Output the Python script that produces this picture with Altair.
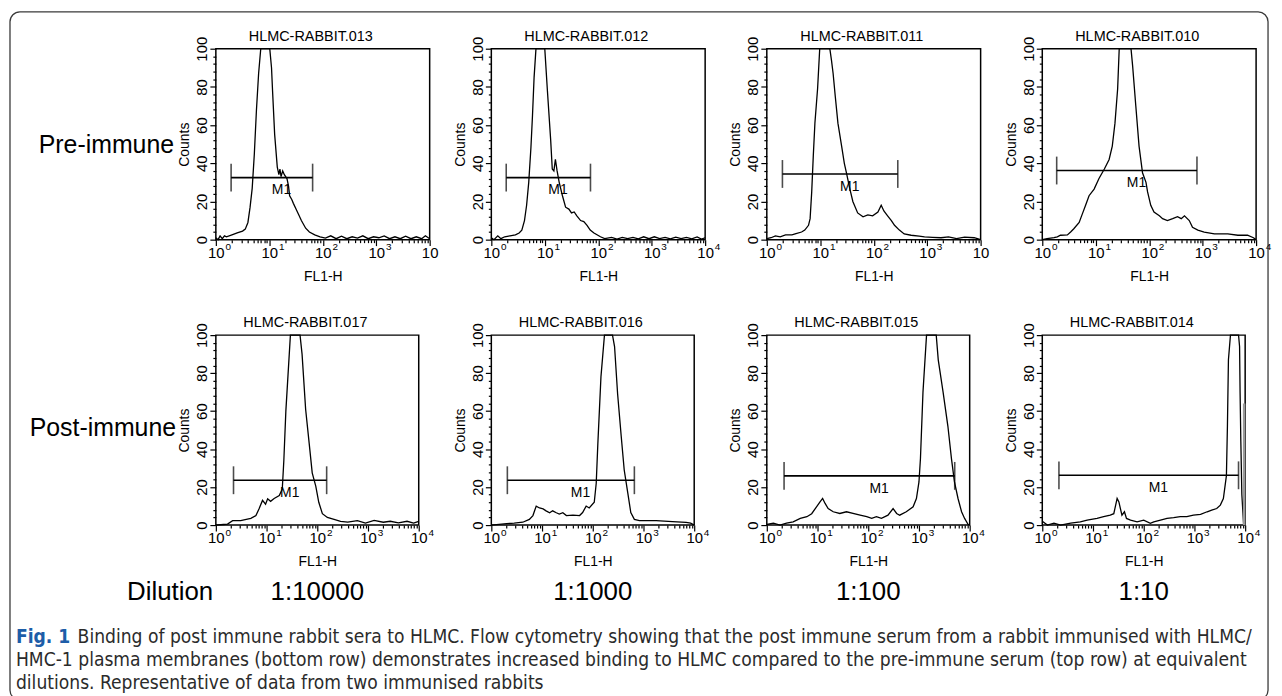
import altair as alt
import pandas as pd

# ---------------- data ----------------
TITLES = ["HLMC-RABBIT.013", "HLMC-RABBIT.012", "HLMC-RABBIT.011", "HLMC-RABBIT.010",
          "HLMC-RABBIT.017", "HLMC-RABBIT.016", "HLMC-RABBIT.015", "HLMC-RABBIT.014"]

X_013 = [1.00, 1.10, 1.20, 1.32, 1.45, 1.58, 2.00, 2.51, 3.16, 3.55, 3.98, 4.37, 4.79, 5.25, 5.75, 6.31, 6.92,
         10.2, 11.0, 11.5, 12.6, 14.1, 15.1, 15.8, 16.6, 17.8, 19.1, 21.4, 22.9, 24.0, 26.3, 28.2, 31.6, 35.5,
         39.8, 47.9, 56.2, 70.8, 89.1, 112, 141, 178, 224, 282, 355, 447, 562, 708, 891, 1120, 1410, 1780,
         2240, 2820, 3550, 4470, 5620, 7080, 8320, 10000]
Y_013 = [1, 0, 2, 0.5, 2, 1.5, 2.5, 3.5, 4.5, 5.5, 9, 17, 27, 45, 68, 87, 100,
         100, 90, 78, 55, 38, 34, 37, 33, 36, 34, 32, 28, 23, 21, 19, 16, 13,
         10, 6, 4, 2.5, 1.5, 0.8, 2, 0.5, 1.8, 0.5, 1.5, 0.8, 2, 0.5, 1.5, 1, 2, 0.5,
         1.5, 0.5, 1.8, 0.5, 1.5, 0.5, 2, 0.5]

X_012 = [1.00, 1.12, 1.32, 1.51, 1.78, 2.24, 2.82, 3.31, 3.72, 4.17, 4.57, 5.01, 5.50, 5.89, 6.31, 6.84,
         10.0, 11.2, 12.9, 13.8, 14.8, 15.8, 17.0, 18.6, 21.4, 24.5, 28.2, 31.6, 35.5, 39.8, 46.8, 53.7,
         61.7, 70.8, 83.2, 110, 132, 178, 224, 282, 355, 447, 562, 708, 891, 1120, 1410, 1780, 2240,
         2820, 3550, 4470, 5620, 7080, 8510, 10000]
Y_012 = [1, 0, 2, 0.5, 1.5, 2, 2.5, 3.5, 5, 10, 18, 30, 48, 65, 85, 100,
         100, 78, 52, 37, 36, 42, 36, 30, 23, 17, 16, 14, 14.5, 12.5, 10, 9.5,
         7.5, 5, 3.5, 1.5, 0.5, 1.2, 0.3, 1.2, 0.5, 1.2, 0.4, 1.5, 0.5, 1.5, 0.5, 1.2, 0.4,
         1.3, 0.5, 1.2, 0.4, 1.4, 0.3, 1]

X_011 = [1.00, 1.20, 1.45, 1.78, 2.24, 2.95, 3.39, 4.47, 5.13, 6.03, 6.46, 6.92, 7.41, 7.94, 8.91, 9.77,
         15.1, 16.2, 17.4, 19.1, 21.4, 25.1, 28.2, 30.9, 35.5, 40.7, 50.1, 63.1, 77.6, 95.5, 120, 138,
         155, 182, 214, 245, 302, 372, 501, 708, 891, 1260, 1820, 2510, 3550, 5010, 7590, 10000]
Y_011 = [0.5, 1, 2, 1.5, 2.5, 2.5, 3, 4, 5, 7.5, 11, 25, 44, 61, 79, 100,
         100, 94, 87, 75, 61, 49, 40, 35, 27, 20, 14, 12, 13, 12.5, 14.5, 18,
         15, 12.5, 10, 7.5, 5, 3, 2.3, 1.8, 1.4, 1.2, 1, 1.5, 0.5, 1.3, 1, 0]

X_010 = [1.00, 1.23, 1.66, 1.91, 2.19, 2.95, 3.39, 3.89, 4.90, 5.62, 6.46, 7.50, 9.33, 11.5, 14.5, 17.8,
         20.4, 22.9, 25.7, 27.5, 45.7, 49.0, 56.2, 64.6, 75.0, 87.1, 93.3, 107, 123, 155, 178, 219,
         275, 339, 398, 457, 562, 646, 813, 1070, 1660, 2950, 4570, 6920, 8910, 10000]
Y_010 = [0, 0.5, 1, 1.5, 2.3, 2.5, 4, 5.7, 9, 13.5, 18, 23, 26.5, 32, 37, 42,
         49, 61, 79, 100, 100, 91, 70, 49, 35, 30, 25, 18, 14.5, 12.5, 11, 10,
         11, 12, 11, 12.5, 10, 6.5, 5, 4, 3, 3, 2.3, 2.3, 1, 0]

X_017 = [1.00, 1.41, 1.70, 2.14, 3.09, 3.98, 4.90, 6.17, 7.08, 8.32, 9.55, 10.5, 12.0, 14.1, 17.8, 20.4,
         21.9, 24.0, 29.5, 45.7, 50.1, 58.9, 69.2, 79.4, 93.3, 107, 126, 158, 214, 288, 398, 617, 891,
         1320, 2000, 2750, 3980, 5890, 7940, 10000]
Y_017 = [0, 0.3, 0.5, 2.3, 2.3, 3, 3.5, 5, 8.5, 13, 11, 13.8, 12.5, 14, 15.5, 19,
         34, 60, 100, 100, 90, 61, 43, 27.5, 20.5, 12, 6, 4, 3, 2, 1.5, 2.3, 1,
         2.5, 1.5, 2, 1.2, 2, 1, 2]

X_016 = [1.00, 2.00, 2.82, 4.17, 5.62, 6.61, 7.67, 8.91, 10.5, 12.0, 14.1, 16.2, 19.1, 21.9, 25.7, 30.2,
         40.7, 55.0, 63.1, 74.1, 85.1, 107, 117, 126, 145, 170, 245, 269, 309, 363, 417, 490, 562,
         661, 832, 1780, 3720, 6920, 8510, 10000]
Y_016 = [0, 0.8, 1, 1.5, 3, 5, 10, 9, 8.5, 7.5, 6.5, 7.5, 6.5, 5.8, 6.5, 5,
         5.2, 5, 6.6, 10, 9, 12, 22, 43, 78, 100, 100, 94, 69, 47, 29, 17, 6.6,
         3, 2.3, 2.3, 1.8, 1.4, 1, 0]

X_015 = [1.00, 1.35, 1.82, 2.45, 3.31, 4.57, 6.17, 7.67, 9.55, 11.2, 12.6, 14.1, 16.2, 20.4, 27.5, 37.2,
         50.1, 69.2, 93.3, 117, 145, 182, 245, 309, 363, 417, 562, 767, 891, 1000, 1070, 1200, 1410,
         2190, 2400, 2990, 3720, 4370, 5010, 5890, 6920, 7940, 9330, 10000]
Y_015 = [0.3, 1, 0, 1, 1.7, 3.5, 4.4, 6, 9.6, 12.2, 14, 11.4, 8.7, 7, 6.1, 7,
         6.1, 5.2, 4.4, 3.5, 4.4, 3.5, 5.2, 8.7, 6.1, 5.2, 7, 9.6, 14, 22.7, 35, 70, 100,
         100, 87, 70, 52, 35, 22.7, 14, 7, 3.5, 0.3, 0]

X_014 = [1.00, 1.26, 1.70, 2.29, 3.63, 5.62, 7.67, 12.0, 16.2, 21.9, 25.7, 27.5, 29.9, 32.4, 34.7, 37.2,
         41.7, 45.7, 55.0, 74.1, 100, 135, 158, 214, 288, 389, 525, 708, 955, 1320, 1780, 2190, 2750,
         3240, 3720, 4270, 4470, 4680, 5130, 7410, 7760, 7940, 8220, 8610, 9330]
Y_014 = [2, 0, 1, 0, 1, 1.7, 2.6, 3.5, 4.4, 5.2, 6, 9.6, 14, 12.2, 8.7, 5.2,
         7, 3.5, 2.6, 1.7, 2.6, 0.9, 1.7, 2.6, 3.5, 3.9, 4.4, 4.4, 5.2, 5.6, 7, 7.9, 8.7,
         10.5, 14, 26, 52, 87, 100, 100, 94, 70, 44, 16, 0]

# last-channel pile-up drawn in grey at the right edge of HLMC-RABBIT.014
EDGE_X = [9550]
EDGE_TOP = [64]
EDGE_PANEL = 7

PANEL_X = [X_013, X_012, X_011, X_010, X_017, X_016, X_015, X_014]
PANEL_Y = [Y_013, Y_012, Y_011, Y_010, Y_017, Y_016, Y_015, Y_014]

M1_START = [1.93, 1.90, 1.96, 1.86, 2.23, 2.07, 2.19, 2.13]
M1_END = [64.6, 71.6, 282, 783, 153, 661, 5070, 7400]
M1_LEVEL = [32.5, 32.5, 34.4, 36.2, 23.6, 23.6, 25.9, 26.2]
M1_NAME = "M1"

ROW_LABELS = ["Pre-immune", "Post-immune"]
DILUTION_TITLE = "Dilution"
DILUTIONS = ["1:10000", "1:1000", "1:100", "1:10"]
CAPTION_LEAD = "Fig. 1"
CAPTION_LINES = [
    "Binding of post immune rabbit sera to HLMC. Flow cytometry showing that the post immune serum from a rabbit immunised with HLMC/",
    "HMC-1 plasma membranes (bottom row) demonstrates increased binding to HLMC compared to the pre-immune serum (top row) at equivalent",
    "dilutions. Representative of data from two immunised rabbits",
]
X_TICKS = [1, 10, 100, 1000, 10000]
Y_TICKS = [0, 20, 40, 60, 80, 100]
X_MINOR = [m * 10 ** k for k in range(4) for m in range(2, 10)]
Y_MINOR = [v for v in range(0, 101, 4) if v % 20 != 0]
CUT_LAST = [True, False, True, False, False, False, False, False]

FONT = "Liberation Sans, Arial, Helvetica, sans-serif"
CAP_FONT = "DejaVu Sans Condensed, Liberation Sans Narrow, sans-serif"


def one(**kw):
    return pd.DataFrame({k: [v] for k, v in kw.items()})


def text_layer(text, x, y, size, align="center", font=FONT, color="black", weight="normal"):
    return alt.Chart(one(t=text)).mark_text(
        align=align, baseline="alphabetic", fontSize=size, font=font, color=color, fontWeight=weight
    ).encode(x=alt.value(x), y=alt.value(y), text="t:N")


def panel(i, w, h, extras=()):
    xs = alt.Scale(type="log", domain=[1, 10000], nice=False)
    ys = alt.Scale(domain=[0, 100], nice=False, zero=False)
    line_df = pd.DataFrame({"fl1": PANEL_X[i], "count": PANEL_Y[i]})
    m1_df = one(start=M1_START[i], end=M1_END[i], level=M1_LEVEL[i], label=M1_NAME)
    caps_df = pd.DataFrame({"fl1": [M1_START[i], M1_END[i]], "level": [M1_LEVEL[i], M1_LEVEL[i]]})

    x_minor = alt.Axis(values=X_MINOR, tickSize=3, labels=False, domain=False, title=None,
                       grid=False, orient="bottom")
    x_major = alt.Axis(values=X_TICKS, tickSize=6, labelExpr="'10'", labelFontSize=15, labelPadding=0,
                       labelFlush=False, labelOverlap=False, domain=False, title=None, grid=False,
                       orient="bottom")
    if CUT_LAST[i]:
        exp_expr = "datum.value >= 10000 ? '' : format(round(log(datum.value) / LN10), 'd')"
    else:
        exp_expr = "format(round(log(datum.value) / LN10), 'd')"
    x_exp = alt.Axis(values=X_TICKS, ticks=False, domain=False, labelExpr=exp_expr, labelFontSize=10,
                     labelOffset=12, labelPadding=2, labelFlush=False, labelOverlap=False, grid=False,
                     title="FL1-H", titleX=w / 2, titleY=41, titleBaseline="alphabetic",
                     titleFontSize=14, titleFontWeight="normal", orient="bottom")
    y_minor = alt.Axis(values=Y_MINOR, tickSize=3, labels=False, domain=False, title=None,
                       grid=False, orient="left")
    y_major = alt.Axis(values=Y_TICKS, tickSize=6, labelAngle=270, labelAlign="center",
                       labelBaseline="alphabetic", labelPadding=3, labelFontSize=15, labelFlush=False,
                       labelOverlap=False, domain=False, grid=False, title="Counts", titleX=-27,
                       titleY=h / 2, titleAngle=270, titleAlign="center", titleBaseline="alphabetic",
                       titleFontSize=14, titleFontWeight="normal", orient="left")

    hist = alt.Chart(line_df).mark_line(color="black", strokeWidth=1.3).encode(
        x=alt.X("fl1:Q", scale=xs, axis=x_minor),
        y=alt.Y("count:Q", scale=ys, axis=y_minor),
    )
    bar = alt.Chart(m1_df).mark_rule(color="black", strokeWidth=1.6).encode(
        x=alt.X("start:Q", scale=xs, axis=x_major),
        x2="end:Q",
        y=alt.Y("level:Q", scale=ys, axis=y_major),
    )
    caps = alt.Chart(caps_df).mark_tick(orient="vertical", size=28, thickness=1.6, color="black").encode(
        x=alt.X("fl1:Q", scale=xs, axis=x_exp),
        y=alt.Y("level:Q", scale=ys, axis=None),
    )
    lab = alt.Chart(m1_df).transform_calculate(mid="sqrt(datum.start * datum.end)").mark_text(
        align="left", baseline="top", dy=6, fontSize=14, font=FONT, color="black"
    ).encode(
        x=alt.X("mid:Q", scale=xs, axis=None),
        y=alt.Y("level:Q", scale=ys, axis=None),
        text="label:N",
    )
    title = text_layer(TITLES[i], w / 2 - 12, -8, 14.5)
    layers = [hist, bar, caps, lab, title]
    if i == EDGE_PANEL:
        edge_df = pd.DataFrame({"fl1": EDGE_X, "top": EDGE_TOP})
        layers.append(alt.Chart(edge_df).mark_rule(color="#9a9a9a", strokeWidth=2.5).encode(
            x=alt.X("fl1:Q", scale=xs, axis=None),
            y=alt.Y("top:Q", scale=ys, axis=None),
            y2=alt.datum(0),
        ))
    layers += list(extras)
    return alt.layer(*layers).resolve_axis(x="independent", y="independent").properties(
        width=w, height=h)


TW, TH = 215, 192
BW, BH = 204, 191

frame = alt.Chart(one(f=0)).mark_rect(fill="transparent", stroke="#3a3a3a", strokeWidth=1.3,
                                      cornerRadius=10).encode(
    x=alt.value(-207), x2=alt.value(1058), y=alt.value(-37), y2=alt.value(655))

panels = []
for i in range(4):
    extras = []
    if i == 0:
        extras = [frame, text_layer(ROW_LABELS[0], -42, 105, 25, align="right")]
    panels.append(panel(i, TW, TH, extras))

CAP_SIZE = 19.2
CAP_COLOR = "#2b2b2b"
for j in range(4):
    i = 4 + j
    extras = [text_layer(DILUTIONS[j], BW / 2, 266, 26)]
    if j == 0:
        extras += [
            text_layer(ROW_LABELS[1], -40, 101, 25, align="right"),
            text_layer(DILUTION_TITLE, -46, 266, 26),
            text_layer(CAPTION_LEAD, -201, 310, CAP_SIZE, align="left", font=CAP_FONT, color="#1d5da8",
                       weight="bold"),
            text_layer(CAPTION_LINES[0], -139, 310, CAP_SIZE, align="left", font=CAP_FONT, color=CAP_COLOR),
            text_layer(CAPTION_LINES[1], -201, 333, CAP_SIZE, align="left", font=CAP_FONT, color=CAP_COLOR),
            text_layer(CAPTION_LINES[2], -201, 356, CAP_SIZE, align="left", font=CAP_FONT, color=CAP_COLOR),
        ]
    panels.append(panel(i, BW, BH, extras))

chart = alt.concat(*panels, columns=4, spacing={"row": 96, "column": 62}, bounds="flush",
                   align="all").properties(
    padding={"left": 0, "top": 0, "right": 2, "bottom": 2},
    background="white",
).configure_view(stroke="black", strokeWidth=1.5).configure_axis(
    tickColor="black", labelColor="black", titleColor="black", tickWidth=1.2,
    labelFont=FONT, titleFont=FONT,
)

chart.save("out.html", embed_options={"renderer": "svg", "actions": False})
